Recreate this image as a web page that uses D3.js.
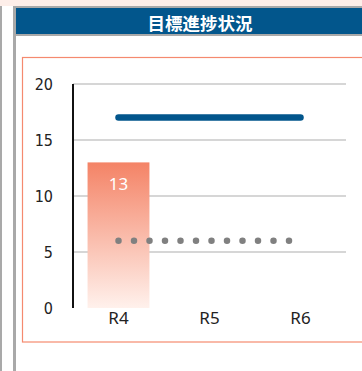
<!DOCTYPE html>
<html>
<head>
<meta charset="utf-8">
<script src="https://cdn.jsdelivr.net/npm/d3@7"></script>
<style>
    html, body { margin: 0; padding: 0; background: #fff; overflow: hidden; }
    svg { display: block; }
</style>
</head>
<body>
<svg id="chart" width="362" height="371"></svg>
<script>
// chart data
let title = "目標進捗状況";
let categories = ["R4", "R5", "R6"];
let actualValues = [13, null, null];
let targetValues = [17, 17, 17];
let baseValues = [6, 6, 6];
let yTicks = [0, 5, 10, 15, 20];

let svg = d3.select("#chart");
let plot = { left: 73, right: 346, top: 84, bottom: 308 };

// page frame: pink strip, side bars, header
svg.append("rect").attr("x", 0).attr("y", 0).attr("width", 362).attr("height", 6).attr("fill", "#fdeee9");
svg.append("rect").attr("x", 0).attr("y", 6).attr("width", 2).attr("height", 365).attr("fill", "#a9a9a9");
svg.append("rect").attr("x", 13).attr("y", 6).attr("width", 3).attr("height", 365).attr("fill", "#a9a9a9");
svg.append("rect").attr("x", 16).attr("y", 6).attr("width", 346).attr("height", 30).attr("fill", "#a9a9a9");
svg.append("rect").attr("x", 16).attr("y", 8).attr("width", 346).attr("height", 26).attr("fill", "#02568c");
svg.append("text")
    .attr("x", 200).attr("y", 22.5)
    .attr("text-anchor", "middle")
    .attr("dominant-baseline", "central")
    .attr("fill", "#fff")
    .style("font-family", "'Noto Sans CJK JP', sans-serif")
    .style("font-size", "17.5px")
    .style("font-weight", "700")
    .text(title);

// salmon box around the chart
svg.append("rect")
    .attr("x", 22.5).attr("y", 57.5)
    .attr("width", 400).attr("height", 284.5)
    .attr("fill", "none")
    .attr("stroke", "#f58a6f")
    .attr("stroke-width", 1.2);

let x = d3.scaleBand()
    .domain(categories)
    .range([plot.left, plot.right])
    .paddingInner(0.32)
    .paddingOuter(0.16);

let y = d3.scaleLinear()
    .domain([0, 20])
    .range([plot.bottom, plot.top]);

// gridlines
svg.append("g")
    .selectAll("line")
    .data(yTicks.filter(d => d > 0))
    .join("line")
    .attr("x1", plot.left).attr("x2", plot.right)
    .attr("y1", d => y(d)).attr("y2", d => y(d))
    .attr("stroke", "#d6d6d6")
    .attr("stroke-width", 2);

// y axis labels
let yAxis = svg.append("g")
    .attr("transform", "translate(" + plot.left + ",0)")
    .call(d3.axisLeft(y).tickValues(yTicks).tickSize(0).tickPadding(20));
yAxis.select(".domain").remove();
yAxis.selectAll("text")
    .attr("fill", "#222")
    .style("font-family", "'Liberation Sans Narrow', 'DejaVu Sans Condensed', sans-serif")
    .style("font-size", "16px");

// bar gradient
let defs = svg.append("defs");
let grad = defs.append("linearGradient")
    .attr("id", "barGrad")
    .attr("x1", 0).attr("y1", 0).attr("x2", 0).attr("y2", 1);
grad.append("stop").attr("offset", "0%").attr("stop-color", "#f48366");
grad.append("stop").attr("offset", "100%").attr("stop-color", "#fff1ec");

let bars = categories.map((c, i) => ({ cat: c, value: actualValues[i] })).filter(d => d.value != null);

svg.append("g")
    .selectAll("rect")
    .data(bars)
    .join("rect")
    .attr("x", d => x(d.cat))
    .attr("y", d => y(d.value))
    .attr("width", x.bandwidth())
    .attr("height", d => y(0) - y(d.value))
    .attr("fill", "url(#barGrad)");

svg.append("g")
    .selectAll("text")
    .data(bars)
    .join("text")
    .attr("x", d => x(d.cat) + x.bandwidth() / 2)
    .attr("y", d => y(d.value) + 21)
    .attr("text-anchor", "middle")
    .attr("dominant-baseline", "central")
    .attr("fill", "#fff")
    .style("font-family", "'Noto Sans', sans-serif")
    .style("font-size", "17px")
    .text(d => d.value);

// y axis line
svg.append("line")
    .attr("x1", plot.left).attr("x2", plot.left)
    .attr("y1", plot.top).attr("y2", plot.bottom)
    .attr("stroke", "#111")
    .attr("stroke-width", 2);

let line = d3.line()
    .x(d => x(d.cat) + x.bandwidth() / 2)
    .y(d => y(d.value));

// target line
svg.append("path")
    .datum(categories.map((c, i) => ({ cat: c, value: targetValues[i] })))
    .attr("d", line)
    .attr("fill", "none")
    .attr("stroke", "#02568c")
    .attr("stroke-width", 6.5)
    .attr("stroke-linecap", "round");

// baseline dotted line
svg.append("path")
    .datum(categories.map((c, i) => ({ cat: c, value: baseValues[i] })))
    .attr("d", line)
    .attr("fill", "none")
    .attr("stroke", "#808080")
    .attr("stroke-width", 6.5)
    .attr("stroke-linecap", "round")
    .attr("stroke-dasharray", "0 15.5");

// x axis labels
let xAxis = svg.append("g")
    .attr("transform", "translate(0," + plot.bottom + ")")
    .call(d3.axisBottom(x).tickSize(0).tickPadding(4));
xAxis.select(".domain").remove();
xAxis.selectAll("text")
    .attr("fill", "#222")
    .style("font-family", "'Noto Sans', sans-serif")
    .style("font-size", "17px");
</script>
</body>
</html>
